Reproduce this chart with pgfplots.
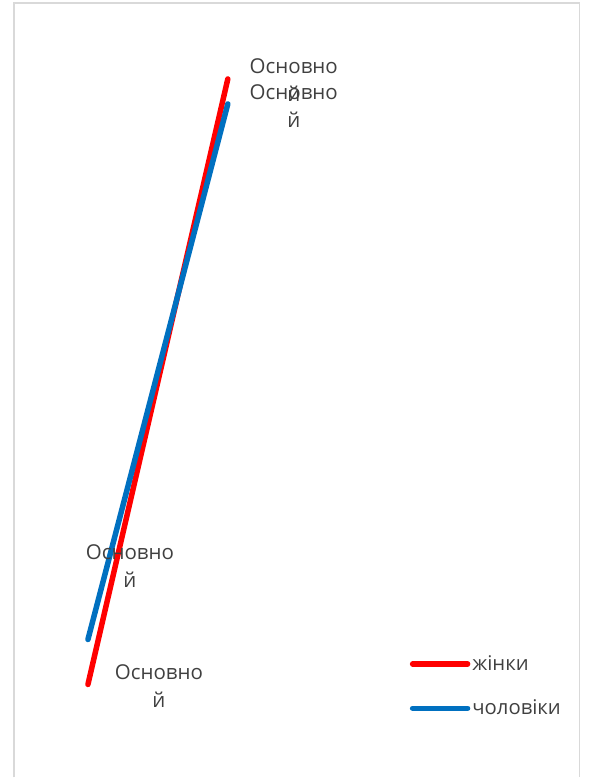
\documentclass[border=0pt]{standalone}
\usepackage{pgfplots}
\pgfplotsset{compat=1.18}
\usepackage{fontspec}
\setmainfont{Open Sans}
\definecolor{cred}{HTML}{FF0000}
\definecolor{cblue}{HTML}{0070C0}
\definecolor{ctext}{HTML}{404040}
\definecolor{cframe}{HTML}{D9D9D9}
\begin{document}
\begin{tikzpicture}
\begin{axis}[
  scale only axis, width=590pt, height=778pt,
  xmin=0, xmax=590, ymin=0, ymax=778,
  hide axis, clip=false,
  legend style={at={(axis cs:410,124)}, anchor=north west, draw=none, fill=none,
    font=\fontsize{20.3}{24}\selectfont\color{ctext}, row sep=24pt,
    inner sep=0pt, nodes={inner sep=2pt}},
  legend cell align=left,
  legend image code/.code={\draw[#1, line cap=round] (0pt,0pt) -- (55pt,0pt);},
]
\path (axis cs:0,0) rectangle (axis cs:590,778);
\draw[cframe, line width=1.2pt] (axis cs:14,0) -- (axis cs:14,775) -- (axis cs:580,775) -- (axis cs:580,0);
\addplot[cred, line width=5.5pt, line cap=round] coordinates {(88,93) (228,699)};
\addlegendentry{жінки}
\addplot[cblue, line width=5.5pt, line cap=round] coordinates {(88,138) (228,674)};
\addlegendentry{чоловіки}
\begin{scope}[every node/.style={align=center, text=ctext, font=\fontsize{20.5}{28}\selectfont}]
\node[anchor=north] at (axis cs:294,723) {Основно\\й};
\node[anchor=north] at (axis cs:294,697) {Основно\\й};
\node[anchor=north] at (axis cs:130,236) {Основно\\й};
\node[anchor=north] at (axis cs:159,116) {Основно\\й};
\end{scope}
\end{axis}
\end{tikzpicture}
\end{document}
